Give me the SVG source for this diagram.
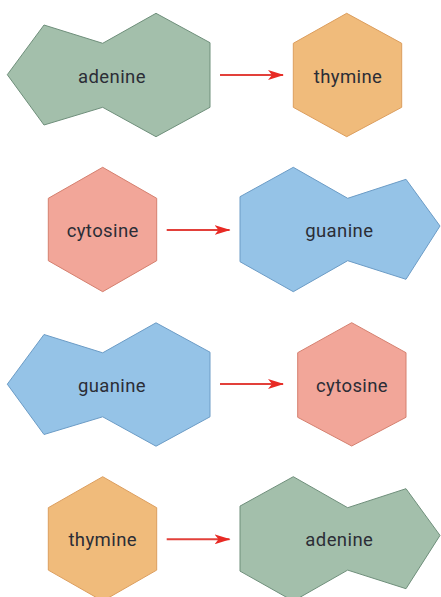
<svg xmlns="http://www.w3.org/2000/svg" width="441" height="597" viewBox="0 0 441 597">
<style>
.a{fill:#a3bfab;stroke:#6f8f7b;stroke-width:1}
.t{fill:#f0bb7b;stroke:#dc9e5e;stroke-width:1}
.c{fill:#f2a699;stroke:#d5806f;stroke-width:1}
.g{fill:#95c3e7;stroke:#6c9cc6;stroke-width:1}
text{font-family:Roboto,"Liberation Sans",sans-serif;font-size:18.5px;fill:#2b2d36;text-anchor:middle;letter-spacing:0.4px}
.ln{stroke:#e2403a;stroke-width:2;fill:none}
</style>
<defs>
<marker id="ah" viewBox="0 0 16 10" refX="15" refY="5" markerWidth="16" markerHeight="10" markerUnits="userSpaceOnUse" orient="auto">
<path d="M0,0 L16,5 L0,10 L4,5 Z" fill="#e82a24"/>
</marker>
</defs>
<g id="connectors">
<line class="ln" x1="220" y1="75" x2="283" y2="75" marker-end="url(#ah)"/>
<line class="ln" x1="166.7" y1="230" x2="229.5" y2="230" marker-end="url(#ah)"/>
<line class="ln" x1="220" y1="384" x2="283" y2="384" marker-end="url(#ah)"/>
<line class="ln" x1="166.7" y1="539.3" x2="229.5" y2="539.3" marker-end="url(#ah)"/>
</g>
<g id="adenine1">
<polygon class="a" points="7.3,74.7 44,25 102.7,43.3 156,13.3 210,42.7 210,107.3 156,136.7 102.7,107.3 44,125"/>
<text x="112" y="82.5">adenine</text>
</g>
<g id="thymine1">
<polygon class="t" points="346.7,13.3 401.7,43.3 401.7,107.3 346.7,136.7 293.3,107.3 293.3,43.3"/>
<text x="348" y="82.5">thymine</text>
</g>
<g id="cytosine1">
<polygon class="c" points="102.7,167.3 156.7,198.3 156.7,260.7 102.7,291.7 48.3,260.7 48.3,198.3"/>
<text x="102.7" y="236.5">cytosine</text>
</g>
<g id="guanine1">
<polygon class="g" points="240,196.7 293.3,167.3 347.7,198.3 406,179.3 440,226 406,279.3 347.7,260.7 293.3,291.7 240,261.7"/>
<text x="339.3" y="236.5">guanine</text>
</g>
<g id="guanine2">
<polygon class="g" transform="translate(0,309.5)" points="7.3,74.7 44,25 102.7,43.3 156,13.3 210,42.7 210,107.3 156,136.7 102.7,107.3 44,125"/>
<text x="112" y="392">guanine</text>
</g>
<g id="cytosine2">
<polygon class="c" points="351.7,322.7 406,352.7 406,417.3 351.7,446 297.7,417.3 297.7,352.7"/>
<text x="352" y="392">cytosine</text>
</g>
<g id="thymine2">
<polygon class="t" transform="translate(0,309.4)" points="102.7,167.3 156.7,198.3 156.7,260.7 102.7,291.7 48.3,260.7 48.3,198.3"/>
<text x="102.7" y="546">thymine</text>
</g>
<g id="adenine2">
<polygon class="a" transform="translate(0,309.4)" points="240,196.7 293.3,167.3 347.7,198.3 406,179.3 440,226 406,279.3 347.7,260.7 293.3,291.7 240,261.7"/>
<text x="339.3" y="546">adenine</text>
</g>
</svg>
